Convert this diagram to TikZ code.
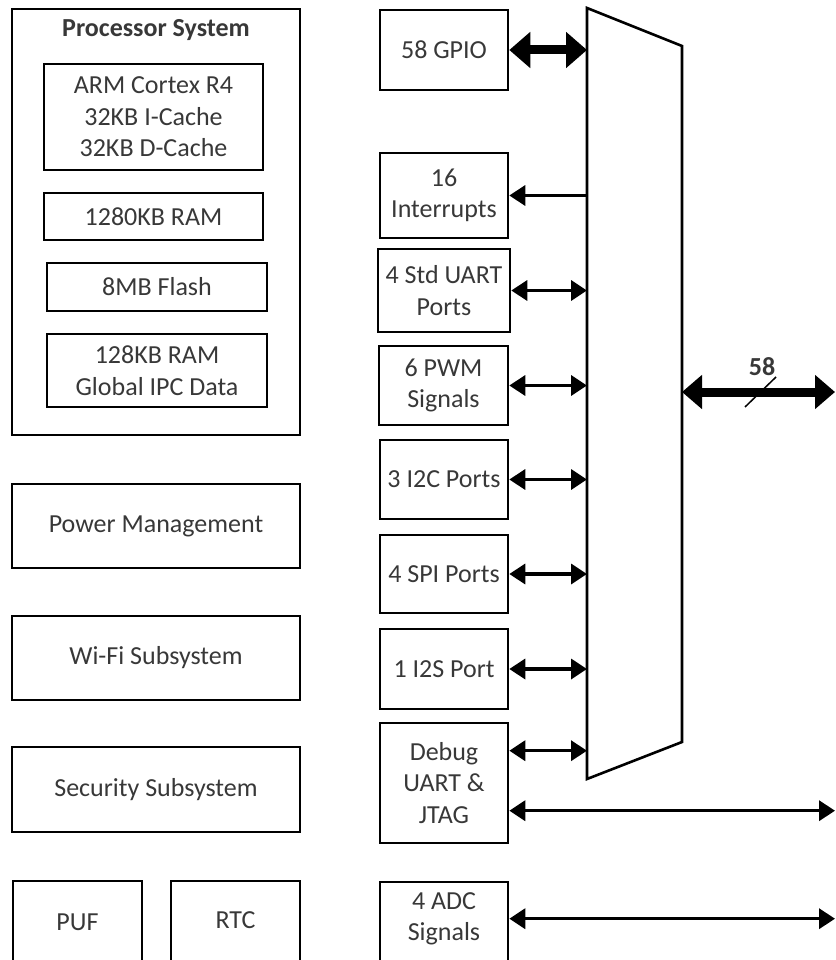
\documentclass[tikz,border=0pt]{standalone}
\usepackage{fontspec}
\setmainfont{Carlito}
\usetikzlibrary{arrows.meta,calc}
\definecolor{txt}{HTML}{383838}
\tikzset{
  blk/.style={draw=black, line width=2.6pt, inner sep=0pt, align=center, text=txt,
    font=\fontsize{26}{31.5}\selectfont},
  lbltext/.style={text=txt, align=center, font=\fontsize{26}{31.5}\selectfont},
  thin/.style={line width=3.5pt, {Triangle[length=16pt,width=20pt]}-{Triangle[length=16pt,width=20pt]}},
  thinone/.style={line width=3.5pt, -{Triangle[length=16pt,width=20pt]}},
  thick/.style={line width=9pt, {Triangle[length=21pt,width=35pt]}-{Triangle[length=21pt,width=35pt]}},
}
\begin{document}
\begin{tikzpicture}[x=1pt,y=-1pt]
\useasboundingbox (0,0) rectangle (835,960);
% left column
\node[blk, minimum width=288pt, minimum height=426pt] (ps) at (156,222) {};
\node[font=\bfseries\fontsize{26}{31.5}\selectfont, text=txt] (pst) at (156,30) {Processor System};
\node[blk, minimum width=219pt, minimum height=106pt] (arm) at (153.5,117) {ARM Cortex R4\\32KB I-Cache\\32KB D-Cache};
\node[blk, minimum width=219pt, minimum height=47pt] (ram) at (153.5,216.5) {1280KB RAM};
\node[blk, minimum width=220pt, minimum height=48pt] (flash) at (157,287) {8MB Flash};
\node[blk, minimum width=220pt, minimum height=73pt] (ipc) at (157,370.5) {128KB RAM\\Global IPC Data};
\node[blk, minimum width=288pt, minimum height=84pt] (pm) at (156,526) {Power Management};
\node[blk, minimum width=288pt, minimum height=84pt] (wifi) at (156,658) {Wi-Fi Subsystem};
\node[blk, minimum width=288pt, minimum height=85pt] (sec) at (156,789.5) {Security Subsystem};
\node[blk, minimum width=129pt, minimum height=90pt] (puf) at (77.5,926) {};
\node[lbltext] (puft) at (77.5,922) {PUF};
\node[blk, minimum width=129pt, minimum height=90pt] (rtc) at (235.5,926) {};
\node[lbltext] (rtct) at (235.5,920) {RTC};
% middle column
\node[blk, minimum width=128pt, minimum height=80pt] (gpio) at (444,50) {58 GPIO};
\node[blk, minimum width=128pt, minimum height=85pt] (irq) at (444,195.5) {16\\Interrupts};
\node[blk, minimum width=132pt, minimum height=83pt] (uart) at (444,290.5) {4 Std UART\\Ports};
\node[blk, minimum width=129pt, minimum height=79pt] (pwm) at (443.5,385.5) {6 PWM\\Signals};
\node[blk, minimum width=128pt, minimum height=79pt] (i2c) at (444,479.5) {3 I2C Ports};
\node[blk, minimum width=128pt, minimum height=78pt] (spi) at (444,574) {4 SPI Ports};
\node[blk, minimum width=128pt, minimum height=80pt] (i2s) at (444,669) {1 I2S Port};
\node[blk, minimum width=128pt, minimum height=120pt] (dbg) at (444,783) {Debug\\UART \&\\JTAG};
\node[blk, minimum width=128pt, minimum height=90pt] (adc) at (444,927) {};
\node[lbltext] (adct) at (444,919) {4 ADC\\Signals};
% mux
\draw[line width=2.6pt, line join=miter] (587,8) -- (682,46) -- (682,742) -- (587,779) -- cycle;
\coordinate (muxL) at (587,0);
\coordinate (muxR) at (682,392);
\coordinate (outR) at (835,392);
\coordinate (edge) at (835,0);
% connectors
\draw[thick] (gpio.east) -- (gpio.east -| muxL);
\draw[thinone] (irq.east -| muxL) -- (irq.east);
\draw[thin] (uart.east) -- (uart.east -| muxL);
\draw[thin] (pwm.east) -- (pwm.east -| muxL);
\draw[thin] (i2c.east) -- (i2c.east -| muxL);
\draw[thin] (spi.east) -- (spi.east -| muxL);
\draw[thin] (i2s.east) -- (i2s.east -| muxL);
\coordinate (dbgA) at ($(dbg.north east)+(0,29)$);
\coordinate (dbgB) at ($(dbg.north east)+(0,89)$);
\coordinate (adcA) at ($(adc.north east)+(0,38)$);
\draw[thin] (dbgA) -- (dbgA -| muxL);
\draw[thin] (dbgB) -- (dbgB -| edge);
\draw[thin] (adcA) -- (adcA -| edge);
\draw[line width=9pt, {Triangle[length=20pt,width=33pt]}-{Triangle[length=20pt,width=33pt]}] (muxR) -- (outR);
\coordinate (s1) at (745,407);
\coordinate (s2) at (776,377);
\draw[line width=1.5pt] (s1) -- (s2);
\node[font=\bfseries\fontsize{26}{31.5}\selectfont, text=txt] (lbl) at (762,367) {58};
\end{tikzpicture}
\end{document}
